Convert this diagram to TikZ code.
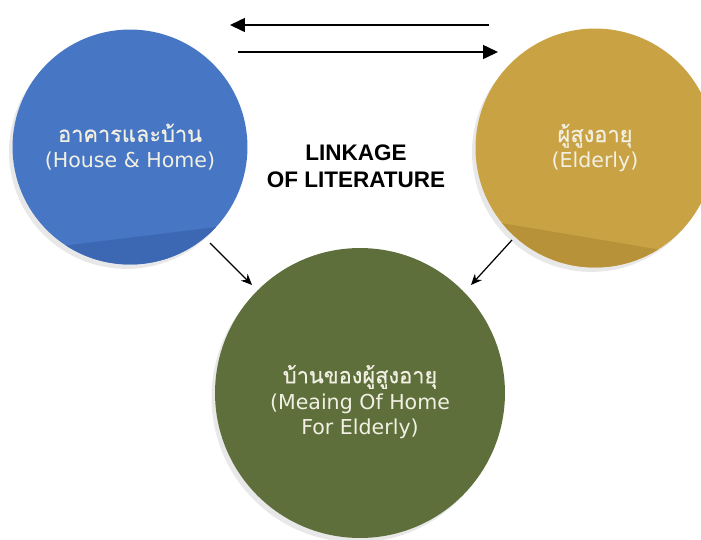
\documentclass[tikz,border=0pt]{standalone}
\usepackage{fontspec}
\setsansfont{DejaVu Sans}
\newfontfamily\thaifont[Script=Thai,FakeBold=0.6,Scale=1.06]{Loma}
\newfontfamily\headfont{Liberation Sans}
\usetikzlibrary{arrows.meta,shadows}
\definecolor{househue}{RGB}{70,118,196}
\definecolor{housedark}{RGB}{60,103,178}
\definecolor{elderhue}{RGB}{201,162,68}
\definecolor{elderdark}{RGB}{184,146,57}
\definecolor{meaninghue}{RGB}{94,111,60}
\definecolor{labeltext}{RGB}{242,240,226}
\tikzset{
  topic/.style={circle,inner sep=0pt,align=center,text=labeltext,
    font=\sffamily\fontsize{11.7}{14.7}\selectfont,
    drop shadow={shadow xshift=-2pt,shadow yshift=-2.5pt,opacity=0.18}},
  link/.style={-{Triangle[length=3mm,width=2.8mm]},line width=0.9pt},
  feed/.style={-{Stealth[length=2.2mm,width=1.9mm]},line width=0.7pt}
}
\begin{document}
\begin{tikzpicture}[x=0.02cm,y=-0.02cm]
    \useasboundingbox (0,0) rectangle (701,539);
    \clip (0,0) rectangle (701,539);

    % — Topic circles
    \node[topic,fill=househue,minimum size=4.7cm] (house) at (130,147)
      {{\thaifont อาคารและบ้าน}\\(House \& Home)};
    \node[topic,fill=elderhue,minimum size=4.78cm] (elder) at (595,148)
      {{\thaifont ผู้สูงอายุ}\\(Elderly)};
    \node[topic,fill=meaninghue,minimum size=5.8cm] (meaning) at (360,393)
      {\\[6pt]{\thaifont บ้านของผู้สูงอายุ}\\(Meaing Of Home\\For Elderly)};

    % — Folded lower edges
    \begin{scope}
      \clip (house.center) circle (2.35cm);
      \fill[housedark] (0,253.6) -- (260,221.7) -- (260,300) -- (0,300) -- cycle;
    \end{scope}
    \begin{scope}
      \clip (elder.center) circle (2.39cm);
      \fill[elderdark] (470,217.8) -- (720,259.8) -- (720,300) -- (470,300) -- cycle;
    \end{scope}

    % — Centre title
    \node[font={\headfont\bfseries\fontsize{12.8}{15.3}\selectfont},align=center]
      (linkage) at (356,166) {LINKAGE\\OF LITERATURE};

    % — Two-way arrows on top
    \coordinate (topL) at (230,25);
    \coordinate (topR) at (489,25);
    \coordinate (lowL) at (238,52);
    \coordinate (lowR) at (498,52);
    \draw[link] (topR) -- (topL);
    \draw[link] (lowL) -- (lowR);

    % — Arrows into the lower circle
    \coordinate (houseout) at (210,243);
    \coordinate (meaningL) at (252,285);
    \coordinate (elderout) at (512,240);
    \coordinate (meaningR) at (471,285);
    \draw[feed] (houseout) -- (meaningL);
    \draw[feed] (elderout) -- (meaningR);
\end{tikzpicture}
\end{document}
